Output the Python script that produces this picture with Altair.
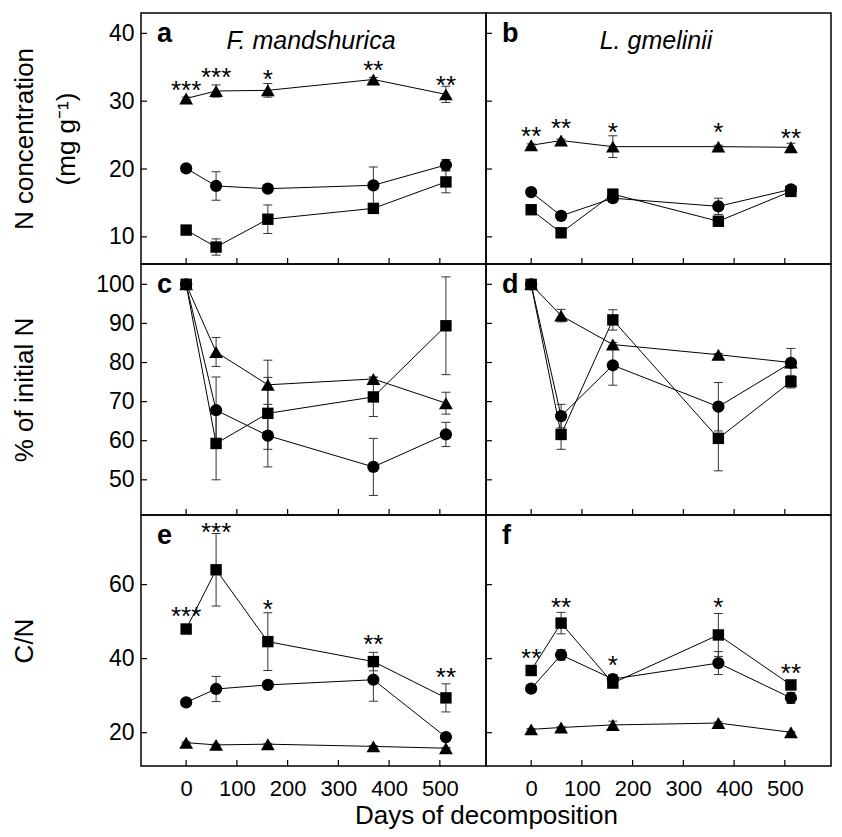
import altair as alt
import pandas as pd

FONT = "Liberation Sans"
DAYS = [0, 59, 161, 369, 512]
XTICKS = [0, 100, 200, 300, 400, 500]
SERIES = ["circle", "square", "triangle"]
MARKER_SHAPE = {"circle": "circle", "square": "square", "triangle": "triangle-up"}
MARKER_SIZE = {"circle": 150, "square": 130, "triangle": 190}

# ---- a: N concentration, F. mandshurica ----
a_circle = [20.1, 17.5, 17.1, 17.6, 20.6]
a_circle_se = [0.3, 2.1, 0.4, 2.7, 0.8]
a_square = [11.0, 8.5, 12.6, 14.2, 18.1]
a_square_se = [0.3, 1.2, 2.1, 0.7, 1.6]
a_tri = [30.4, 31.5, 31.6, 33.2, 31.0]
a_tri_se = [0.2, 0.9, 1.0, 0.3, 1.2]
a_stars = ["***", "***", "*", "**", "**"]
a_star_y = [32.6, 34.4, 34.2, 35.5, 33.3]

# ---- b: N concentration, L. gmelinii ----
b_circle = [16.6, 13.1, 15.7, 14.5, 17.0]
b_circle_se = [0.2, 0.2, 0.6, 1.2, 0.5]
b_square = [14.0, 10.6, 16.3, 12.3, 16.7]
b_square_se = [0.2, 0.2, 0.3, 0.4, 0.3]
b_tri = [23.5, 24.2, 23.3, 23.3, 23.2]
b_tri_se = [0.2, 0.2, 1.6, 0.2, 0.6]
b_stars = ["**", "**", "*", "*", "**"]
b_star_y = [25.8, 26.9, 26.3, 26.3, 25.5]

# ---- c: % of initial N, F. mandshurica ----
c_circle = [100, 67.8, 61.3, 53.3, 61.6]
c_circle_se = [0, 8.5, 8.0, 7.3, 3.1]
c_square = [100, 59.3, 67.0, 71.2, 89.4]
c_square_se = [0, 9.3, 9.2, 5.0, 12.5]
c_tri = [100, 82.7, 74.3, 75.8, 69.6]
c_tri_se = [0, 3.7, 6.3, 0.5, 2.8]

# ---- d: % of initial N, L. gmelinii ----
d_circle = [100, 66.3, 79.3, 68.7, 79.9]
d_circle_se = [0, 3.0, 5.1, 6.2, 3.7]
d_square = [100, 61.6, 90.9, 60.6, 75.1]
d_square_se = [0, 3.8, 2.6, 8.3, 1.6]
d_tri = [100, 92.0, 84.6, 82.0, 80.0]
d_tri_se = [0, 1.6, 0.5, 0.3, 0.3]

# ---- e: C/N, F. mandshurica ----
e_circle = [28.2, 31.8, 32.9, 34.3, 18.8]
e_circle_se = [0.3, 3.4, 0.4, 5.8, 0.5]
e_square = [48.0, 64.0, 44.6, 39.2, 29.4]
e_square_se = [0.3, 9.8, 7.8, 2.5, 3.8]
e_tri = [17.3, 16.7, 16.9, 16.3, 15.8]
e_tri_se = [0.2, 0.2, 0.2, 0.2, 0.2]
e_stars = ["***", "***", "*", "**", "**"]
e_star_y = [53.2, 75.9, 55.0, 45.5, 36.6]

# ---- f: C/N, L. gmelinii ----
f_circle = [31.9, 41.0, 34.5, 38.8, 29.4]
f_circle_se = [0.3, 1.4, 1.2, 3.1, 1.5]
f_square = [36.8, 49.6, 33.4, 46.4, 32.9]
f_square_se = [0.3, 2.9, 0.8, 5.8, 0.5]
f_tri = [20.9, 21.4, 22.1, 22.6, 20.1]
f_tri_se = [0.2, 0.2, 1.0, 0.3, 0.2]
f_stars = ["**", "**", "*", "*", "**"]
f_star_y = [41.8, 55.7, 39.8, 55.7, 37.7]

ROW_DOMAINS = [[6, 43], [41, 105.2], [11, 78.8]]
ROW_TICKS = [[10, 20, 30, 40], [50, 60, 70, 80, 90, 100], [20, 40, 60]]
ROW_TITLES = [["N concentration", "(mg g\u207b\u00b9)"], "% of initial N", "C/N"]

W, H = 345, 251


def make_df(circle, circle_se, square, square_se, tri, tri_se):
    rows = []
    for name, vals, ses in (("circle", circle, circle_se),
                            ("square", square, square_se),
                            ("triangle", tri, tri_se)):
        for d, v, s in zip(DAYS, vals, ses):
            rows.append({"day": d, "value": v, "lo": v - s, "hi": v + s, "series": name})
    return pd.DataFrame(rows)


def panel(df, row, left, letter, species=None, stars=None, star_y=None):
    bottom = row == 2
    xs = alt.Scale(domain=[-89, 591], nice=False, zero=False)
    ys = alt.Scale(domain=ROW_DOMAINS[row], nice=False, zero=False)
    if bottom:
        xkw = dict(values=XTICKS, ticks=False, tickSize=0, domain=False, grid=False,
                   labelPadding=12, labelFontSize=22, labelFont=FONT, labelColor="black",
                   labelFlush=False)
        if left:
            xaxis = alt.Axis(title="Days of decomposition", titleFontSize=26, titleFont=FONT,
                             titleFontWeight="normal", titleColor="black",
                             titleX=W, titleY=57, titleBaseline="alphabetic", **xkw)
        else:
            xaxis = alt.Axis(title=None, **xkw)
    else:
        xaxis = None
    if left:
        yaxis = alt.Axis(values=ROW_TICKS[row], ticks=False, tickSize=0, domain=False, grid=False,
                         labelPadding=7, labelFontSize=23, labelFont=FONT, labelColor="black",
                         title=ROW_TITLES[row], titleFontSize=26, titleFont=FONT,
                         titleFontWeight="normal", titleColor="black",
                         titleX=-109, titleBaseline="alphabetic", titleLineHeight=42)
    else:
        yaxis = None

    def X(f):
        return alt.X(f, scale=xs, axis=xaxis)

    def Y(f):
        return alt.Y(f, scale=ys, axis=yaxis)

    base = alt.Chart(df)
    lines = base.mark_line(color="black", strokeWidth=1).encode(
        x=X("day:Q"), y=Y("value:Q"), detail="series:N")
    bars = base.mark_rule(color="#333333", strokeWidth=1).encode(
        x=X("day:Q"), y=Y("lo:Q"), y2="hi:Q")
    cap_lo = base.mark_rule(color="#333333", strokeWidth=1, xOffset=-4.5, x2Offset=4.5).encode(
        x=X("day:Q"), x2="day:Q", y=Y("lo:Q"))
    cap_hi = base.mark_rule(color="#333333", strokeWidth=1, xOffset=-4.5, x2Offset=4.5).encode(
        x=X("day:Q"), x2="day:Q", y=Y("hi:Q"))
    pts = []
    for name in SERIES:
        pts.append(base.transform_filter(alt.datum.series == name).mark_point(
            filled=True, color="black", opacity=1, strokeWidth=0,
            shape=MARKER_SHAPE[name], size=MARKER_SIZE[name]).encode(
            x=X("day:Q"), y=Y("value:Q")))

    ytk = alt.Chart(pd.DataFrame({"t": ROW_TICKS[row]})).mark_rule(
        color="black", strokeWidth=1.2).encode(y=Y("t:Q"), x=alt.value(0), x2=alt.value(6))
    xtk = alt.Chart(pd.DataFrame({"t": XTICKS})).mark_rule(
        color="black", strokeWidth=1.2).encode(x=X("t:Q"), y=alt.value(H), y2=alt.value(H - 6))

    lab = alt.Chart(pd.DataFrame({"l": [letter]})).mark_text(
        align="left", baseline="alphabetic", fontSize=27, fontWeight="bold", font=FONT,
        color="black").encode(x=alt.value(16), y=alt.value(29), text="l:N")

    layers = [xtk, ytk, lines, bars, cap_lo, cap_hi] + pts + [lab]
    if species:
        sp = alt.Chart(pd.DataFrame({"s": [species]})).mark_text(
            align="center", baseline="alphabetic", fontSize=25, fontStyle="italic", font=FONT,
            color="black").encode(x=alt.value(170), y=alt.value(36), text="s:N")
        layers.append(sp)
    if stars:
        sdf = pd.DataFrame({"day": DAYS, "y": star_y, "s": stars})
        st = alt.Chart(sdf).mark_text(
            align="center", baseline="alphabetic", dy=15, fontSize=26, font=FONT,
            color="black").encode(x=X("day:Q"), y=Y("y:Q"), text="s:N")
        layers.append(st)
    return alt.layer(*layers).properties(width=W, height=H)


pa = panel(make_df(a_circle, a_circle_se, a_square, a_square_se, a_tri, a_tri_se), 0, True, "a",
           "F. mandshurica", a_stars, a_star_y)
pb = panel(make_df(b_circle, b_circle_se, b_square, b_square_se, b_tri, b_tri_se), 0, False, "b",
           "L. gmelinii", b_stars, b_star_y)
pc = panel(make_df(c_circle, c_circle_se, c_square, c_square_se, c_tri, c_tri_se), 1, True, "c")
pd_ = panel(make_df(d_circle, d_circle_se, d_square, d_square_se, d_tri, d_tri_se), 1, False, "d")
pe = panel(make_df(e_circle, e_circle_se, e_square, e_square_se, e_tri, e_tri_se), 2, True, "e",
           None, e_stars, e_star_y)
pf = panel(make_df(f_circle, f_circle_se, f_square, f_square_se, f_tri, f_tri_se), 2, False, "f",
           None, f_stars, f_star_y)

chart = alt.concat(pa, pb, pc, pd_, pe, pf, columns=2, spacing=0, bounds="flush").properties(
    padding={"left": 2, "top": 4, "right": 0, "bottom": 0}
).configure(background="white").configure_view(stroke="black", strokeWidth=1.5)

chart.save("out.html", embed_options={"renderer": "svg", "actions": False})
